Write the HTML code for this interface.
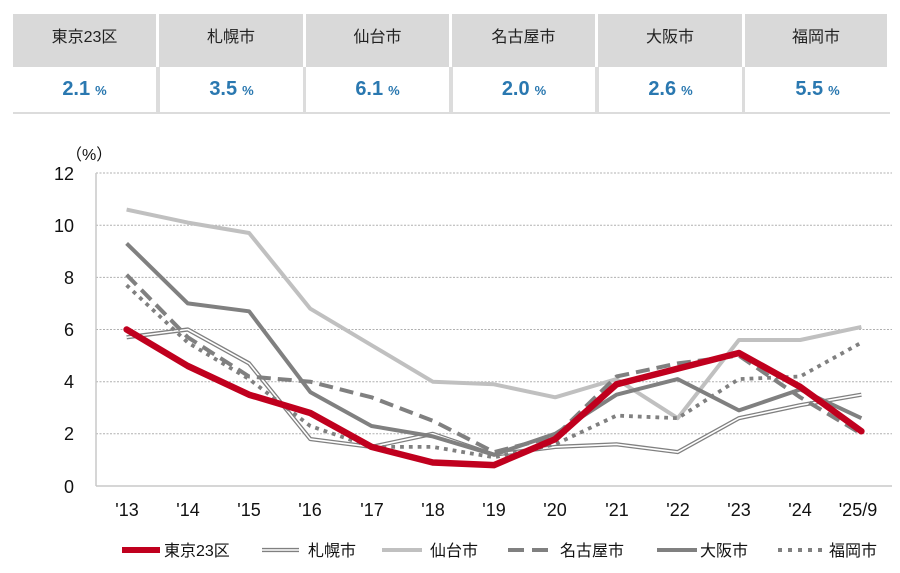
<!DOCTYPE html>
<html><head><meta charset="utf-8">
<style>
body{margin:0;width:900px;height:573px;background:#fff;overflow:hidden;position:relative;font-family:"Liberation Sans","Noto Sans CJK JP",sans-serif;}
.h{position:absolute;top:14px;height:53px;background:#d9d9d9;color:#222;font-size:16px;line-height:48px;text-align:center;}
.strip{position:absolute;left:13px;top:67px;width:877px;height:47px;background:#dcdcdc;}
.v{position:absolute;top:67px;height:45px;background:#fff;color:#2a78b0;font-weight:bold;font-size:20px;line-height:45px;text-align:center;}
.v span{font-size:13px;font-weight:bold;margin-left:5px;}
svg{position:absolute;left:0;top:0;}
</style></head><body>
<div class="h" style="left:13px;width:143px">東京23区</div>
<div class="h" style="left:159px;width:144px">札幌市</div>
<div class="h" style="left:306px;width:143px">仙台市</div>
<div class="h" style="left:452px;width:143px">名古屋市</div>
<div class="h" style="left:598px;width:144px">大阪市</div>
<div class="h" style="left:745px;width:142px">福岡市</div>
<div class="strip"></div>
<div class="v" style="left:13px;width:143px">2.1<span>%</span></div>
<div class="v" style="left:160px;width:143px">3.5<span>%</span></div>
<div class="v" style="left:306px;width:143px">6.1<span>%</span></div>
<div class="v" style="left:453px;width:142px">2.0<span>%</span></div>
<div class="v" style="left:599px;width:143px">2.6<span>%</span></div>
<div class="v" style="left:745px;width:145px">5.5<span>%</span></div>

<svg width="900" height="573" viewBox="0 0 900 573" xmlns="http://www.w3.org/2000/svg" font-family="Liberation Sans, Noto Sans CJK JP, sans-serif">
<g stroke="#b0b0b0" stroke-width="1" stroke-dasharray="2 1.5">
<line x1="96" y1="173" x2="892" y2="173"/>
<line x1="96" y1="225.2" x2="892" y2="225.2"/>
<line x1="96" y1="277.4" x2="892" y2="277.4"/>
<line x1="96" y1="329.5" x2="892" y2="329.5"/>
<line x1="96" y1="381.7" x2="892" y2="381.7"/>
<line x1="96" y1="433.8" x2="892" y2="433.8"/>
</g>
<line x1="96" y1="173" x2="96" y2="486" stroke="#c8c8c8" stroke-width="1.5"/>
<line x1="96" y1="486" x2="892" y2="486" stroke="#c8c8c8" stroke-width="1.5"/>
<g font-size="18" fill="#111" text-anchor="end">
<text x="74" y="180">12</text>
<text x="74" y="232">10</text>
<text x="74" y="284">8</text>
<text x="74" y="336">6</text>
<text x="74" y="388">4</text>
<text x="74" y="440">2</text>
<text x="74" y="493">0</text>
</g>
<text x="66" y="160" font-size="16" fill="#111">（%）</text>
<g font-size="18" fill="#111" text-anchor="middle">
<text x="127" y="516">'13</text>
<text x="188" y="516">'14</text>
<text x="249" y="516">'15</text>
<text x="310" y="516">'16</text>
<text x="372" y="516">'17</text>
<text x="433" y="516">'18</text>
<text x="494" y="516">'19</text>
<text x="555" y="516">'20</text>
<text x="617" y="516">'21</text>
<text x="678" y="516">'22</text>
<text x="739" y="516">'23</text>
<text x="800" y="516">'24</text>
<text x="858" y="516">'25/9</text>
</g>
<g fill="none" stroke-linejoin="round">
<polyline stroke="#808080" stroke-width="4.2" points="126.6,337.3 187.8,329.5 249.1,363.4 310.3,439.1 371.5,446.9 432.8,433.8 494,454.7 555.2,446.9 616.5,444.3 677.7,452.1 738.9,418.2 800.2,405.2 861.4,394.7"/>
<polyline stroke="#ffffff" stroke-width="1.6" points="126.6,337.3 187.8,329.5 249.1,363.4 310.3,439.1 371.5,446.9 432.8,433.8 494,454.7 555.2,446.9 616.5,444.3 677.7,452.1 738.9,418.2 800.2,405.2 861.4,394.7"/>
<polyline stroke="#c0c0c0" stroke-width="4" points="126.6,209.6 187.8,222.6 249.1,233 310.3,308.7 371.5,345.2 432.8,381.7 494,384.3 555.2,397.3 616.5,379.1 677.7,418.2 738.9,340 800.2,340 861.4,326.9"/>
<polyline stroke="#808080" stroke-width="4" stroke-dasharray="14 7" points="126.6,274.8 187.8,337.3 249.1,376.5 310.3,381.7 371.5,397.3 432.8,420.8 494,452.1 555.2,436.4 616.5,376.5 677.7,363.4 738.9,355.6 800.2,397.3 861.4,433.8"/>
<polyline stroke="#808080" stroke-width="4" points="126.6,243.4 187.8,303.4 249.1,311.3 310.3,392.1 371.5,426 432.8,436.4 494,454.7 555.2,433.8 616.5,394.7 677.7,379.1 738.9,410.4 800.2,389.5 861.4,418.2"/>
<polyline stroke="#808080" stroke-width="3.8" stroke-dasharray="3.8 5" points="126.6,285.2 187.8,342.6 249.1,379.1 310.3,426 371.5,446.9 432.8,446.9 494,457.3 555.2,444.3 616.5,415.6 677.7,418.2 738.9,379.1 800.2,376.5 861.4,342.6"/>
<polyline stroke="#c0001e" stroke-width="6.5" stroke-linecap="round" points="126.6,329.5 187.8,366 249.1,394.7 310.3,413 371.5,446.9 432.8,462.5 494,465.1 555.2,439.1 616.5,384.3 677.7,368.6 738.9,353 800.2,386.9 861.4,431.2"/>
</g>
<g font-size="16" fill="#111">
<line x1="122" y1="550" x2="160" y2="550" stroke="#c0001e" stroke-width="6"/>
<text x="164" y="556">東京23区</text>
<line x1="262" y1="550" x2="299" y2="550" stroke="#808080" stroke-width="4.2"/>
<line x1="262" y1="550" x2="299" y2="550" stroke="#fff" stroke-width="1.6"/>
<text x="308" y="556">札幌市</text>
<line x1="382" y1="550" x2="422" y2="550" stroke="#c0c0c0" stroke-width="4"/>
<text x="430" y="556">仙台市</text>
<line x1="508" y1="550" x2="550" y2="550" stroke="#808080" stroke-width="4" stroke-dasharray="16 8"/>
<text x="560" y="556">名古屋市</text>
<line x1="657" y1="550" x2="697" y2="550" stroke="#808080" stroke-width="4"/>
<text x="700" y="556">大阪市</text>
<line x1="778" y1="550" x2="822" y2="550" stroke="#808080" stroke-width="4" stroke-dasharray="4 6"/>
<text x="829" y="556">福岡市</text>
</g>
</svg>
</body></html>
